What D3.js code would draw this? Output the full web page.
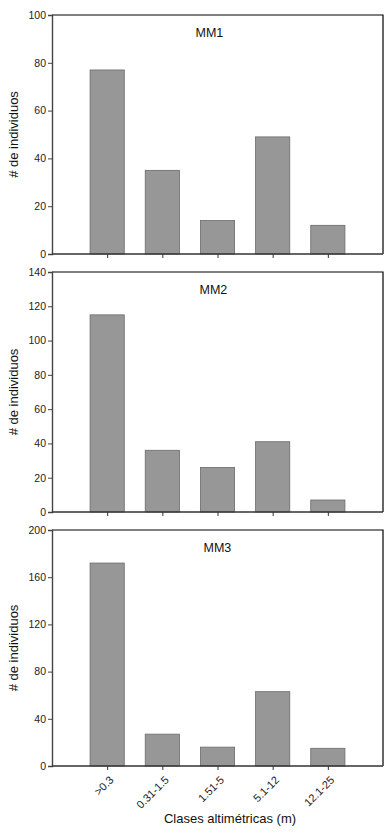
<!DOCTYPE html>
<html>
<head>
<meta charset="utf-8">
<script src="https://cdn.jsdelivr.net/npm/d3@7"></script>
<style>
  body { margin: 0; background: #fff; }
  text { font-family: "Liberation Sans", Arial, sans-serif; }
</style>
</head>
<body>
<script>
// clases altimetricas
var categories = [">0.3", "0.31-1.5", "1.51-5", "5.1-12", "12.1-25"];
var mm1 = [77, 35, 14, 49, 12];
var mm2 = [115, 36, 26, 41, 7];
var mm3 = [172, 27, 16, 63, 15];
var yMax = [100, 140, 200];
var yTicks = [[0, 20, 40, 60, 80, 100], [0, 20, 40, 60, 80, 100, 120, 140], [0, 40, 80, 120, 160, 200]];
var names = ["MM1", "MM2", "MM3"];
var series = [mm1, mm2, mm3];

var width = 387, height = 834;
var left = 52, right = 383;
var panels = [{top: 15, bottom: 254}, {top: 272, bottom: 512}, {top: 530, bottom: 766}];

var svg = d3.select("body").append("svg")
    .attr("width", width)
    .attr("height", height);

var x = d3.scalePoint()
    .domain(categories)
    .range([left, right])
    .padding(1);
var barW = x.step() * 0.62;

panels.forEach((p, i) => {
    var y = d3.scaleLinear().domain([0, yMax[i]]).range([p.bottom, p.top]);
    var g = svg.append("g");

    // frame top & right
    g.append("path")
        .attr("d", "M" + left + "," + p.top + "H" + right + "V" + p.bottom)
        .attr("fill", "none")
        .attr("stroke", "#000")
        .attr("stroke-width", 1.2);

    g.selectAll("rect.bar").data(series[i]).enter().append("rect")
        .attr("class", "bar")
        .attr("x", (d, j) => x(categories[j]) - barW / 2)
        .attr("y", d => y(d))
        .attr("width", barW)
        .attr("height", d => p.bottom - y(d))
        .attr("fill", "#979797")
        .attr("stroke", "#6b6b6b")
        .attr("stroke-width", 0.8);

    var leftAxis = d3.axisLeft(y).tickValues(yTicks[i]).tickSize(4).tickPadding(2);
    var ya = g.append("g")
        .attr("transform", "translate(" + left + ",0)")
        .call(leftAxis);
    ya.selectAll("text").attr("font-size", "10.5px").attr("fill", "#222");
    ya.select(".domain").attr("stroke", "#444").attr("stroke-width", 1.4);
    ya.selectAll(".tick line").attr("stroke", "#444");

    var bottomAxis = d3.axisBottom(x).tickSize(4).tickSizeOuter(0);
    var xa = g.append("g")
        .attr("transform", "translate(0," + p.bottom + ")")
        .call(bottomAxis);
    xa.select(".domain").attr("stroke", "#333").attr("stroke-width", 1.4)
        .attr("d", "M" + left + ",0H" + right);
    xa.selectAll(".tick line").attr("stroke", "#333");
    if (i < 2) {
        xa.selectAll("text").remove();
    } else {
        xa.selectAll("text")
            .attr("font-size", "11px")
            .attr("fill", "#222")
            .attr("text-anchor", "end")
            .attr("y", 0)
            .attr("dy", "0.35em")
            .attr("transform", "translate(4,12) rotate(-45)");
    }

    g.append("text")
        .attr("x", x(categories[2]) - 22 + i * 4)
        .attr("y", p.top + 22)
        .attr("font-size", "12.5px")
        .attr("fill", "#111")
        .text(names[i]);

    g.append("text")
        .attr("transform", "translate(18," + ((p.top + p.bottom) / 2) + ") rotate(-90)")
        .attr("text-anchor", "middle")
        .attr("font-size", "13px")
        .attr("fill", "#111")
        .text("# de individuos");
});

svg.append("text")
    .attr("x", 230)
    .attr("y", 823)
    .attr("text-anchor", "middle")
    .attr("font-size", "13px")
    .attr("fill", "#111")
    .text("Clases altimétricas (m)");
</script>
</body>
</html>
